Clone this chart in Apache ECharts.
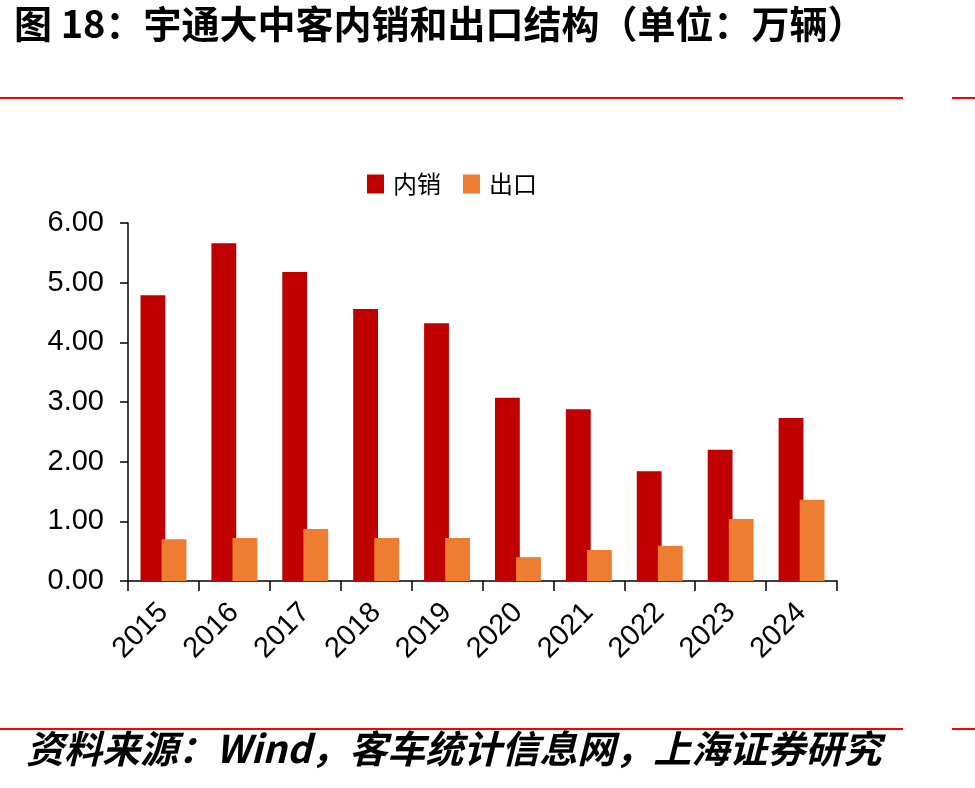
<!DOCTYPE html>
<html>
<head>
<meta charset="utf-8">
<script src="https://cdn.jsdelivr.net/npm/echarts@6/dist/echarts.min.js"></script>
<style>
html, body { margin: 0; padding: 0; background: #fff; }
#chart { width: 975px; height: 788px; }
</style>
</head>
<body>
<div id="chart"></div>
<script>
var years = ['2015', '2016', '2017', '2018', '2019', '2020', '2021', '2022', '2023', '2024'];
var domestic = [4.79, 5.66, 5.18, 4.56, 4.32, 3.07, 2.88, 1.84, 2.20, 2.73];
var exportVals = [0.70, 0.72, 0.87, 0.72, 0.72, 0.40, 0.52, 0.59, 1.04, 1.36];
var yTicks = [0, 1, 2, 3, 4, 5, 6];

var cjk = '"Noto Sans CJK SC", "Liberation Sans", sans-serif';
var num = '"Liberation Sans", Arial, sans-serif';

var chart = echarts.init(document.getElementById('chart'));
var option = {
    animation: false,
    backgroundColor: '#fff',
    graphic: [
        {
            type: 'text', left: 14, top: 5,
            style: { text: '图 18：宇通大中客内销和出口结构（单位：万辆）', font: 'bold 38px ' + cjk, fill: '#000' }
        },
        { type: 'line', shape: { x1: 0, y1: 98, x2: 903, y2: 98 }, style: { stroke: '#ff0000', lineWidth: 2 } },
        { type: 'line', shape: { x1: 952, y1: 98, x2: 975, y2: 98 }, style: { stroke: '#ff0000', lineWidth: 2 } },
        { type: 'line', shape: { x1: 0, y1: 729, x2: 903, y2: 729 }, style: { stroke: '#ff0000', lineWidth: 2 } },
        { type: 'line', shape: { x1: 952, y1: 729, x2: 975, y2: 729 }, style: { stroke: '#ff0000', lineWidth: 2 } },
        {
            type: 'text', left: 26, top: 730,
            style: { text: '资料来源：Wind，客车统计信息网，上海证券研究', font: 'italic bold 38px ' + cjk, fill: '#000' }
        }
    ],
    legend: {
        top: 167,
        left: 362,
        icon: 'rect',
        itemWidth: 17,
        itemHeight: 19,
        itemGap: 22,
        textStyle: { fontFamily: cjk, fontSize: 24, color: '#000', padding: [0, 0, 0, 4] },
        data: ['内销', '出口']
    },
    grid: { left: 128, right: 138, top: 223, bottom: 207, containLabel: false },
    xAxis: {
        type: 'category',
        data: years,
        axisLine: { lineStyle: { color: '#000', width: 1.5 } },
        axisTick: { show: true, alignWithLabel: false, length: 10, lineStyle: { color: '#000', width: 1.5 } },
        axisLabel: { rotate: 45, margin: 27, fontFamily: num, fontSize: 29, color: '#000' }
    },
    yAxis: {
        type: 'value',
        min: yTicks[0],
        max: yTicks[yTicks.length - 1],
        interval: 1,
        splitLine: { show: false },
        axisLine: { show: true, lineStyle: { color: '#000', width: 1.5 } },
        axisTick: { show: true, length: 8, lineStyle: { color: '#000', width: 1.5 } },
        axisLabel: {
            margin: 24, fontFamily: num, fontSize: 29, color: '#000',
            formatter: function (v) { return v.toFixed(2); }
        }
    },
    series: [
        {
            name: '内销',
            type: 'bar',
            data: domestic,
            barWidth: '35%',
            barGap: '-15%',
            itemStyle: { color: '#C00000' }
        },
        {
            name: '出口',
            type: 'bar',
            data: exportVals,
            barWidth: '35%',
            itemStyle: { color: '#ED7D31' }
        }
    ]
};
chart.setOption(option);
</script>
</body>
</html>
